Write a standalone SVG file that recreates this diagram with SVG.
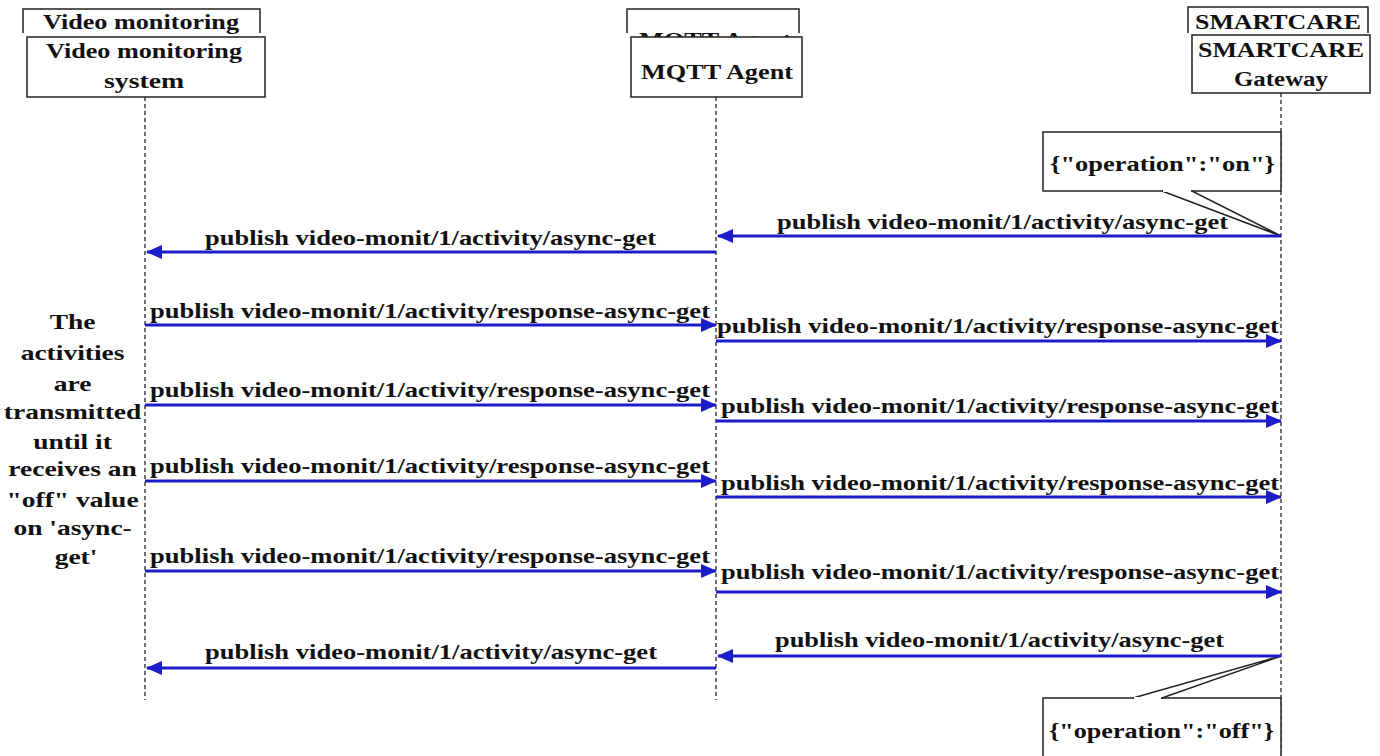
<svg xmlns="http://www.w3.org/2000/svg" width="1380" height="756" viewBox="0 0 1380 756">
  <style>
    .box { fill: #ffffff; stroke: #222222; stroke-width: 1.5; }
    .open { fill: none; stroke: #222222; stroke-width: 1.5; }
    .hdr, .lbl { font-family: "Liberation Serif", Tinos, "Times New Roman", "DejaVu Serif", serif; font-weight: bold; font-size: 21px; fill: #111111; }
    .note { font-family: "Liberation Serif", Tinos, "Times New Roman", "DejaVu Serif", serif; font-weight: bold; font-size: 22px; fill: #111111; }
    .life { stroke: #222222; stroke-width: 1.3; stroke-dasharray: 4 3; fill: none; }
    .msg { stroke: #1c1cc8; stroke-width: 3; fill: none; }
  </style>
  <defs>
    <marker id="head" markerUnits="userSpaceOnUse" markerWidth="16" markerHeight="16" viewBox="0 0 16 16" refX="15" refY="8" orient="auto">
      <path d="M0,1 L16,8 L0,15 Z" fill="#1c1cc8"/>
    </marker>
  </defs>
  <rect width="1380" height="756" fill="#ffffff"/>

  <!-- lifelines -->
  <g id="lifelines">
    <line class="life" x1="145" y1="97" x2="145" y2="700"/>
    <line class="life" x1="716" y1="97" x2="716" y2="700"/>
    <line class="life" x1="1281" y1="93" x2="1281" y2="756"/>
  </g>

  <!-- participant: video monitoring system -->
  <g id="video">
    <path class="open" d="M23,33 V9 H260 V33"/>
    <text class="hdr" x="141" y="29" text-anchor="middle" textLength="196" lengthAdjust="spacingAndGlyphs">Video monitoring</text>
    <rect class="box" x="27" y="37" width="238" height="60"/>
    <text class="hdr" x="144" y="58" text-anchor="middle" textLength="196" lengthAdjust="spacingAndGlyphs">Video monitoring</text>
    <text class="hdr" x="144" y="88" text-anchor="middle" textLength="80" lengthAdjust="spacingAndGlyphs">system</text>
  </g>

  <!-- participant: MQTT agent -->
  <g id="mqtt">
    <path class="open" d="M627,33 V9 H799 V33"/>
    <text class="hdr" x="715" y="47" text-anchor="middle" textLength="152" lengthAdjust="spacingAndGlyphs">MQTT Agent</text>
    <rect class="box" x="631" y="37" width="171" height="60"/>
    <text class="hdr" x="717" y="79" text-anchor="middle" textLength="152" lengthAdjust="spacingAndGlyphs">MQTT Agent</text>
  </g>

  <!-- participant: SMARTCARE gateway -->
  <g id="gateway">
    <path class="open" d="M1188,33 V7 H1368 V33"/>
    <text class="hdr" x="1278" y="29" text-anchor="middle" textLength="166" lengthAdjust="spacingAndGlyphs">SMARTCARE</text>
    <rect class="box" x="1192" y="35" width="178" height="58"/>
    <text class="hdr" x="1281" y="57" text-anchor="middle" textLength="166" lengthAdjust="spacingAndGlyphs">SMARTCARE</text>
    <text class="hdr" x="1281" y="86" text-anchor="middle" textLength="94" lengthAdjust="spacingAndGlyphs">Gateway</text>
  </g>

  <!-- note: operation on -->
  <g id="note-on">
    <rect class="box" x="1043" y="132" width="238" height="59"/>
    <path class="box" d="M1162,191 L1281,236 L1192,191 Z"/>
    <line x1="1163" y1="191" x2="1191" y2="191" stroke="#ffffff" stroke-width="2"/>
    <text class="lbl" x="1050" y="171" textLength="225" lengthAdjust="spacingAndGlyphs">{"operation":"on"}</text>
  </g>

  <!-- note: loop explanation (horizontally widened text) -->
  <g id="note-loop" transform="translate(76,0) scale(1.25,1)">
    <text class="note" text-anchor="middle">
      <tspan x="0" y="329">The</tspan>
      <tspan x="0" y="360">activities</tspan>
      <tspan x="0" y="391">are</tspan>
      <tspan x="0" y="419">transmitted</tspan>
      <tspan x="0" y="449">until it</tspan>
      <tspan x="0" y="476">receives an</tspan>
      <tspan x="0" y="507">"off" value</tspan>
      <tspan x="0" y="535">on 'async-</tspan>
      <tspan x="0" y="564">get'</tspan>
    </text>
  </g>

  <!-- note: operation off -->
  <g id="note-off">
    <rect class="box" x="1043" y="698" width="238" height="70"/>
    <path class="box" d="M1133,698 L1281,656 L1162,698 Z"/>
    <line x1="1134" y1="698" x2="1161" y2="698" stroke="#ffffff" stroke-width="2"/>
    <text class="lbl" x="1049" y="738" textLength="225" lengthAdjust="spacingAndGlyphs">{"operation":"off"}</text>
  </g>

  <!-- messages -->
  <g id="connectors">
    <line class="msg" x1="1281" y1="236" x2="718" y2="236" marker-end="url(#head)"/>
    <line class="msg" x1="716" y1="252" x2="147" y2="252" marker-end="url(#head)"/>

    <line class="msg" x1="145" y1="325" x2="716" y2="325" marker-end="url(#head)"/>
    <line class="msg" x1="716" y1="341" x2="1281" y2="341" marker-end="url(#head)"/>

    <line class="msg" x1="145" y1="405" x2="716" y2="405" marker-end="url(#head)"/>
    <line class="msg" x1="716" y1="421" x2="1281" y2="421" marker-end="url(#head)"/>

    <line class="msg" x1="145" y1="481" x2="716" y2="481" marker-end="url(#head)"/>
    <line class="msg" x1="716" y1="497" x2="1281" y2="497" marker-end="url(#head)"/>

    <line class="msg" x1="145" y1="571" x2="716" y2="571" marker-end="url(#head)"/>
    <line class="msg" x1="716" y1="592" x2="1281" y2="592" marker-end="url(#head)"/>

    <line class="msg" x1="1281" y1="656" x2="718" y2="656" marker-end="url(#head)"/>
    <line class="msg" x1="716" y1="668" x2="147" y2="668" marker-end="url(#head)"/>
  </g>

  <!-- message labels -->
  <g id="labels">
    <text class="lbl" x="777" y="229" textLength="451" lengthAdjust="spacingAndGlyphs">publish video-monit/1/activity/async-get</text>
    <text class="lbl" x="205" y="245" textLength="451" lengthAdjust="spacingAndGlyphs">publish video-monit/1/activity/async-get</text>

    <text class="lbl" x="150" y="318" textLength="560" lengthAdjust="spacingAndGlyphs">publish video-monit/1/activity/response-async-get</text>
    <text class="lbl" x="717" y="333" textLength="562" lengthAdjust="spacingAndGlyphs">publish video-monit/1/activity/response-async-get</text>

    <text class="lbl" x="150" y="397" textLength="560" lengthAdjust="spacingAndGlyphs">publish video-monit/1/activity/response-async-get</text>
    <text class="lbl" x="721" y="413" textLength="558" lengthAdjust="spacingAndGlyphs">publish video-monit/1/activity/response-async-get</text>

    <text class="lbl" x="150" y="473" textLength="560" lengthAdjust="spacingAndGlyphs">publish video-monit/1/activity/response-async-get</text>
    <text class="lbl" x="721" y="490" textLength="558" lengthAdjust="spacingAndGlyphs">publish video-monit/1/activity/response-async-get</text>

    <text class="lbl" x="150" y="563" textLength="560" lengthAdjust="spacingAndGlyphs">publish video-monit/1/activity/response-async-get</text>
    <text class="lbl" x="721" y="579" textLength="558" lengthAdjust="spacingAndGlyphs">publish video-monit/1/activity/response-async-get</text>

    <text class="lbl" x="775" y="647" textLength="449" lengthAdjust="spacingAndGlyphs">publish video-monit/1/activity/async-get</text>
    <text class="lbl" x="205" y="659" textLength="452" lengthAdjust="spacingAndGlyphs">publish video-monit/1/activity/async-get</text>
  </g>
</svg>
